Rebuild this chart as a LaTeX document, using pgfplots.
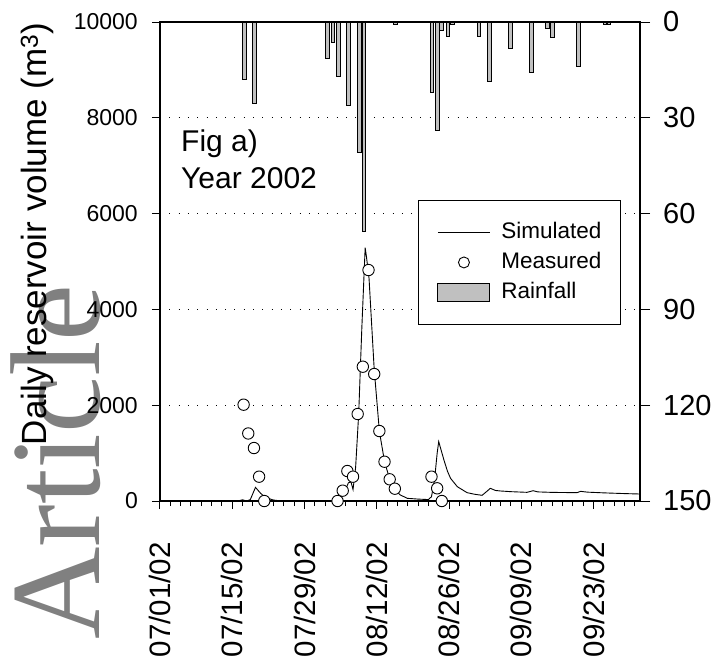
\documentclass[border=0pt]{standalone}
\usepackage{fontspec}
\setmainfont{Liberation Sans}
\newfontfamily\wmfont{Liberation Serif}
\usepackage{pgfplots}
\pgfplotsset{compat=1.18}
\definecolor{rainfill}{RGB}{192,192,192}
\definecolor{wmgray}{RGB}{128,128,128}

\begin{document}
\begin{tikzpicture}[x=1pt,y=1pt]
\path[use as bounding box] (-160,-156) rectangle (551,501);
\node[rotate=90, anchor=base west, text=wmgray, font=\wmfont\fontsize{128}{128}\selectfont, inner sep=0pt] at (-60,-139) {Article};
\begin{axis}[
  at={(0,0)}, anchor=south west,
  scale only axis, width=480pt, height=479pt,
  xmin=0, xmax=93, ymin=0, ymax=10000,
  clip=false,
  scaled y ticks=false,
  xtick={0,14,28,42,56,70,84},
  xticklabels={07/01/02,07/15/02,07/29/02,08/12/02,08/26/02,09/09/02,09/23/02},
  minor xtick={0,2,...,92},
  ytick={0,2000,...,10000},
  xtick pos=left, ytick pos=left,
  tick align=outside,
  major tick length=8pt, minor tick length=5pt,
  every tick/.style={black, line width=1pt},
  axis line style={line width=1.6pt},
  ymajorgrids,
  grid style={black, line width=0.9pt, dash pattern=on 0.9pt off 8.4pt},
  /pgf/number format/assume math mode=true,
  /pgf/number format/1000 sep={},
  yticklabel style={font=\fontsize{23}{27}\selectfont, inner sep=0pt},
  yticklabel shift=14pt,
  xticklabel style={font=\fontsize{29.5}{33}\selectfont, rotate=90, anchor=east, inner sep=0pt},
  xticklabel shift=33pt,
]
\addplot[black, line width=0.9pt] coordinates {
(0,0)(15,0)(16,25)(16.8,0)(17.5,30)(18.5,285)(19.5,160)(20.5,70)(22,20)(23.5,0)
(34,0)(35,70)(35.8,200)(36.5,380)(37,400)(37.4,240)(37.9,700)(38.5,1830)(39.1,3600)
(39.75,5290)(40.0,5100)(40.5,4650)(41.5,2750)(42.5,1461)(43.5,820)(44.5,460)(45.3,265)
(46.5,130)(47.9,56)(50,40)(52,30)(52.6,90)(53.2,450)(53.7,1000)(54,1240)(54.5,1050)
(55,860)(55.7,620)(56.3,473)(57.6,299)(59.5,174)(61,140)(62.4,119)(63.2,190)(64,265)
(65,220)(66,209)(68,195)(71.1,181)(72.3,215)(73.2,190)(76,180)(80.8,174)(81.5,202)
(82.8,185)(86,170)(90,155)(93,146)
};
\addplot[only marks, mark=*, mark size=5.7pt, mark options={fill=white, draw=black, line width=0.9pt}] coordinates {
(16.2,2011)(17.1,1410)(18.2,1106)(19.2,508)(20.2,0)(34.4,0)(35.4,216)(36.3,626)(37.4,508)
(38.3,1816)(39.3,2804)(40.4,4822)(41.5,2651)(42.5,1461)(43.5,820)(44.5,453)(45.5,257)
(52.6,508)(53.7,265)(54.6,0)
};
\node[anchor=north west, align=left, inner sep=0pt, font=\fontsize{30}{37}\selectfont] at (axis cs:4.07,7745) {Fig a)\\Year 2002};
\end{axis}
\begin{axis}[
  at={(0,0)}, anchor=south west,
  scale only axis, width=480pt, height=479pt,
  xmin=0, xmax=93, ymin=0, ymax=150, y dir=reverse,
  axis x line=none, axis y line*=right,
  ytick={0,30,...,150},
  tick align=outside, major tick length=10pt,
  every tick/.style={black, line width=1pt},
  axis line style={line width=1.6pt},
  /pgf/number format/assume math mode=true,
  yticklabel style={font=\fontsize{29}{33}\selectfont, inner sep=0pt},
  yticklabel shift=13pt,
  legend style={at={(axis description cs:0.5375,0.6284)}, anchor=north west, draw=black, line width=0.9pt, fill=white,
    font=\fontsize{22.5}{27}\selectfont, inner xsep=19pt, inner ysep=22pt, row sep=10pt,
    nodes={inner sep=0pt, text height=16pt, text depth=4pt},
    /tikz/every odd column/.append style={column sep=11pt}},
  legend cell align=left,
]
\addlegendimage{legend image code/.code={\draw[black, line width=0.9pt] (0pt,0pt) -- (52pt,0pt);}}
\addlegendentry{Simulated}
\addlegendimage{legend image code/.code={\path[draw=none] (0pt,0pt) -- (52pt,0pt); \draw[black, line width=0.9pt, fill=white] (26pt,0pt) circle (5.5pt);}}
\addlegendentry{Measured}
\addplot[ybar, bar width=3.7pt, bar shift=0pt, fill=rainfill, draw=black, line width=0.8pt,
  legend image code/.code={\draw[black, line width=1pt, fill=rainfill] (0pt,-9pt) rectangle (52pt,9pt);}] coordinates {
(16.3,18)(18.3,25.6)(32.5,11.4)(33.5,6.5)(34.5,17.1)(36.5,26)(38.6,40.8)(39.5,65.7)(45.6,0.8)
(52.7,22.2)(53.7,33.8)(54.5,2.5)(55.8,4.4)(56.7,0.6)(61.8,4.4)(63.8,18.7)(67.9,8.4)(72,15.9)
(75,2)(76,4.8)(81,14)(86.2,0.6)(87,0.6)
};
\addlegendentry{Rainfall}
\end{axis}
\node[rotate=90, anchor=base, inner sep=0pt, font=\fontsize{35}{39}\selectfont] at (-113,267) {Daily reservoir volume (m\textsuperscript{3})};
\end{tikzpicture}
\end{document}
